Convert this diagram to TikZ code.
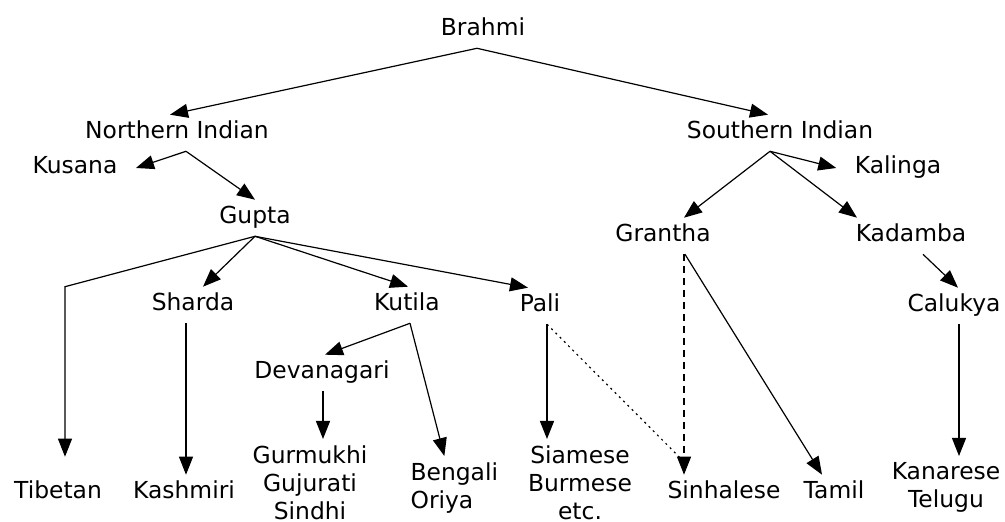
\documentclass[tikz,border=0pt]{standalone}
\usepackage{fontspec}
\setmainfont{DejaVu Sans}
\usetikzlibrary{arrows.meta}
\begin{document}
\begin{tikzpicture}[x=.5pt,y=-.5pt,line width=.6pt,>={Triangle[length=9pt,width=7pt]}]
	\tikzstyle{every node}=[inner sep=3pt, font=\fontsize{11.7}{14}\selectfont]
	\tikzstyle{word}=[text height=8.8pt, text depth=2.9pt]
	\tikzstyle{words}=[anchor=north, align=center]
	\tikzstyle{guess}=[dash pattern=on 3.5pt off 2.5pt]
	\tikzstyle{maybe}=[dash pattern=on 1pt off 2pt]
	\useasboundingbox (0,0) rectangle (1005,522);
	\draw (483,30) node (brahmi) [word] {Brahmi};
	\draw (177,133) node (north) [word] {Northern Indian};
	\draw (780,133) node (south) [word] {Southern Indian};
	\draw (75,168) node (kusana) [word] {Kusana};
	\draw (898,168) node (kalinga) [word] {Kalinga};
	\draw (255,218) node (gupta) [word] {Gupta};
	\draw (663,236) node (grantha) [word] {Grantha};
	\draw (911,236) node (kadamba) [word] {Kadamba};
	\draw (193,305) node (sharda) [word] {Sharda};
	\draw (407,305) node (kutila) [word] {Kutila};
	\draw (540,306) node (pali) [word] {Pali};
	\draw (954,306) node (calukya) [word] {Calukya};
	\draw (322,373) node (devanagari) [word] {Devanagari};
	\draw (58,493) node (tibetan) [word] {Tibetan};
	\draw (184,493) node (kashmiri) [word] {Kashmiri};
	\draw (724,493) node (sinhalese) [word] {Sinhalese};
	\draw (834,493) node (tamil) [word] {Tamil};
	\draw (310,439) node (gurmukhi) [words] {Gurmukhi\\Gujurati\\Sindhi};
	\draw (404,456) node (bengali) [words, anchor=north west, align=left] {Bengali\\Oriya};
	\draw (580,439) node (siamese) [words] {Siamese\\Burmese\\etc.};
	\draw (946,456) node (kanarese) [words] {Kanarese\\Telugu};
	\draw[->] ([xshift=-3pt]brahmi.south) -- ([xshift=-3.5pt]north.north);
	\draw[->] ([xshift=-3pt]brahmi.south) -- ([xshift=-6pt]south.north);
	\draw[->] ([xshift=4.5pt]north.south) -- ([xshift=6pt]kusana.east);
	\draw[->] ([xshift=4.5pt]north.south) -- (gupta.north);
	\draw[->] ([xshift=-5pt]south.south) -- ([xshift=-6pt]kalinga.west);
	\draw[->] ([xshift=-5pt]south.south) -- ([xshift=10.5pt]grantha.north);
	\draw[->] ([xshift=-5pt]south.south) -- ([xshift=-27pt]kadamba.north);
	\draw[->] (gupta.south) -- ([xshift=3.5pt]tibetan.north |- sharda.north) -- ([shift={(3.5pt,9pt)}]tibetan.north);
	\draw[->] (gupta.south) -- ([xshift=5pt]sharda.north);
	\draw[->] (gupta.south) -- ([xshift=.5pt]kutila.north);
	\draw[->] (gupta.south) -- ([xshift=-6pt]pali.north);
	\draw[->] ([xshift=-3.5pt]sharda.south) -- ([xshift=-3.5pt]sharda.south |- kashmiri.north);
	\draw[->] ([xshift=1.5pt]kutila.south) -- ([xshift=1.5pt]devanagari.north);
	\draw[->] ([xshift=1.5pt]kutila.south) -- ([xshift=-5pt]bengali.north);
	\draw[->] ([xshift=.5pt]devanagari.south) -- ([xshift=.5pt]devanagari.south |- gurmukhi.north);
	\draw[->] ([xshift=3.5pt]pali.south) -- ([xshift=3.5pt]pali.south |- siamese.north);
	\draw[maybe] ([xshift=3.5pt]pali.south) -- ([shift={(-21pt,7.5pt)}]sinhalese.north);
	\draw[->,guess] ([xshift=10.5pt]grantha.south) -- ([xshift=10.5pt]grantha.south |- sinhalese.north);
	\draw[->] ([xshift=11pt]grantha.south) -- ([xshift=-6pt]tamil.north);
	\draw[->] ([xshift=6pt]kadamba.south) -- ([xshift=2pt]calukya.north);
	\draw[->] ([xshift=2.5pt]calukya.south) -- ([xshift=2.5pt]calukya.south |- kanarese.north);
\end{tikzpicture}
\end{document}
